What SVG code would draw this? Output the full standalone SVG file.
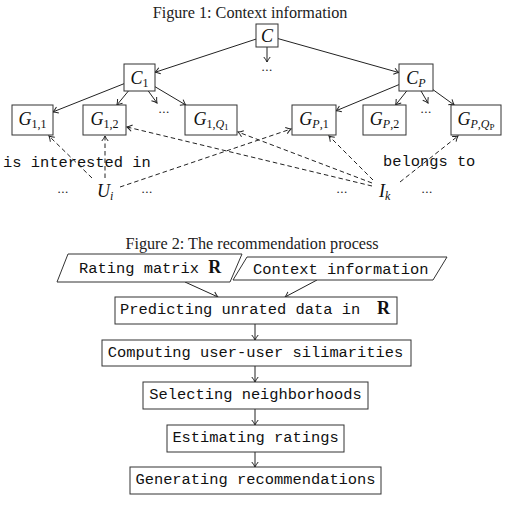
<svg xmlns="http://www.w3.org/2000/svg" width="513" height="507" viewBox="0 0 513 507">
<style>
.bg{fill:#fff}
.box{fill:#fff;stroke:#333;stroke-width:1}
.ln{fill:none;stroke:#222;stroke-width:1}
.dash{fill:none;stroke:#222;stroke-width:1;stroke-dasharray:4.5 3}
.cap{font-family:"Liberation Serif",serif;font-size:16.2px;fill:#222}
.math{font-family:"Liberation Serif",serif;font-style:italic;font-size:18px;fill:#111}
.sub{font-family:"Liberation Serif",serif;font-style:normal;font-size:12px}
.subi{font-family:"Liberation Serif",serif;font-style:italic;font-size:12px}
.subsub{font-family:"Liberation Serif",serif;font-style:normal;font-size:9px}
.tt{font-family:"Liberation Mono",monospace;font-size:15.4px;fill:#111}
.bf{font-family:"Liberation Serif",serif;font-weight:bold;font-size:18px;fill:#111}
.dots{font-family:"Liberation Serif",serif;font-size:13px;fill:#222;letter-spacing:0.5px}
</style>
<defs>
<marker id="ah" markerWidth="8" markerHeight="8" refX="0" refY="0" viewBox="-6 -4 7 8" markerUnits="userSpaceOnUse" orient="auto">
<path d="M-5,-3.2 Q-2,-0.8 0,0 Q-2,0.8 -5,3.2" fill="none" stroke="#222" stroke-width="1" stroke-dasharray="none"/>
</marker>
</defs>
<rect class="bg" x="0" y="0" width="513" height="507"/>

<text class="cap" x="250" y="18" text-anchor="middle">Figure 1: Context information</text>
<text class="cap" x="252" y="249" text-anchor="middle">Figure 2: The recommendation process</text>

<g id="connectors">
<line class="ln" x1="256" y1="39.1" x2="155" y2="72.3" marker-end="url(#ah)"/>
<line class="ln" x1="278" y1="38.6" x2="399" y2="72.6" marker-end="url(#ah)"/>
<line class="ln" x1="267" y1="47" x2="267" y2="62" marker-end="url(#ah)"/>
<line class="ln" x1="124" y1="83.7" x2="53" y2="111.9" marker-end="url(#ah)"/>
<line class="ln" x1="128.4" y1="91" x2="116.9" y2="105" marker-end="url(#ah)"/>
<line class="ln" x1="148.3" y1="91" x2="157" y2="103" marker-end="url(#ah)"/>
<line class="ln" x1="155" y1="86.7" x2="185.8" y2="105" marker-end="url(#ah)"/>
<line class="ln" x1="399" y1="84.6" x2="336" y2="110.8" marker-end="url(#ah)"/>
<line class="ln" x1="406.7" y1="91" x2="395.6" y2="105" marker-end="url(#ah)"/>
<line class="ln" x1="421" y1="91" x2="428" y2="103" marker-end="url(#ah)"/>
<line class="ln" x1="433" y1="89.7" x2="454.2" y2="105" marker-end="url(#ah)"/>

<line class="dash" x1="92" y1="178" x2="49" y2="136" marker-end="url(#ah)"/>
<line class="dash" x1="105" y1="178" x2="105" y2="136" marker-end="url(#ah)"/>
<line class="dash" x1="120" y1="187" x2="291" y2="129" marker-end="url(#ah)"/>
<line class="dash" x1="372" y1="186" x2="127" y2="127" marker-end="url(#ah)"/>
<line class="dash" x1="372" y1="183" x2="238" y2="132" marker-end="url(#ah)"/>
<line class="dash" x1="373" y1="180" x2="329" y2="136" marker-end="url(#ah)"/>
<line class="dash" x1="400" y1="182" x2="458" y2="136" marker-end="url(#ah)"/>

<line class="ln" x1="185" y1="282" x2="218" y2="297" marker-end="url(#ah)"/>
<line class="ln" x1="317" y1="280" x2="285" y2="297" marker-end="url(#ah)"/>
<line class="ln" x1="255" y1="324" x2="255" y2="340" marker-end="url(#ah)"/>
<line class="ln" x1="255" y1="366" x2="255" y2="382" marker-end="url(#ah)"/>
<line class="ln" x1="255" y1="409" x2="255" y2="425" marker-end="url(#ah)"/>
<line class="ln" x1="255" y1="452" x2="255" y2="467" marker-end="url(#ah)"/>
</g>

<g id="C"><rect class="box" x="256" y="24" width="22" height="23"/><text class="math" x="267" y="42" text-anchor="middle">C</text></g>
<g id="C1"><rect class="box" x="124" y="64" width="31" height="27"/><text class="math" x="139.5" y="83.5" text-anchor="middle">C<tspan class="sub" dy="3">1</tspan></text></g>
<g id="CP"><rect class="box" x="399" y="64" width="34" height="27"/><text class="math" x="416" y="83.5" text-anchor="middle">C<tspan class="subi" dy="3">P</tspan></text></g>

<g id="G11"><rect class="box" x="12" y="105" width="41" height="30"/><text class="math" x="32.5" y="125" text-anchor="middle">G<tspan class="sub" dy="3">1,1</tspan></text></g>
<g id="G12"><rect class="box" x="83" y="105" width="43" height="30"/><text class="math" x="104.5" y="125" text-anchor="middle">G<tspan class="sub" dy="3">1,2</tspan></text></g>
<g id="G1Q1"><rect class="box" x="185" y="105" width="52" height="30"/><text class="math" x="211" y="125" text-anchor="middle">G<tspan class="sub" dy="3">1,</tspan><tspan class="subi">Q</tspan><tspan class="subsub" dy="2">1</tspan></text></g>
<g id="GP1"><rect class="box" x="292" y="105" width="44" height="30"/><text class="math" x="314" y="125" text-anchor="middle">G<tspan class="subi" dy="3">P</tspan><tspan class="sub">,1</tspan></text></g>
<g id="GP2"><rect class="box" x="363" y="105" width="43" height="30"/><text class="math" x="384.5" y="125" text-anchor="middle">G<tspan class="subi" dy="3">P</tspan><tspan class="sub">,2</tspan></text></g>
<g id="GPQP"><rect class="box" x="451" y="105" width="50" height="30"/><text class="math" x="476" y="125" text-anchor="middle">G<tspan class="subi" dy="3">P</tspan><tspan class="sub">,</tspan><tspan class="subi">Q</tspan><tspan class="subsub" font-style="italic" dy="2">P</tspan></text></g>

<g id="dots">
<text class="dots" x="267" y="71" text-anchor="middle">...</text>
<text class="dots" x="164" y="113" text-anchor="middle">...</text>
<text class="dots" x="426" y="113" text-anchor="middle">...</text>
<text class="dots" x="63" y="193" text-anchor="middle">...</text>
<text class="dots" x="147" y="193" text-anchor="middle">...</text>
<text class="dots" x="342" y="193" text-anchor="middle">...</text>
<text class="dots" x="427" y="193" text-anchor="middle">...</text>
</g>

<g id="Ui"><text class="math" x="97" y="197">U<tspan class="subi" dy="3">i</tspan></text></g>
<g id="Ik"><text class="math" x="379" y="197">I<tspan class="subi" dy="3">k</tspan></text></g>

<g id="labels">
<text class="tt" x="3" y="167">is interested in</text>
<text class="tt" x="383" y="166">belongs to</text>
</g>

<g id="rating"><polygon class="box" points="68,254 242,254 230,282 57,282"/><text class="tt" x="79" y="273">Rating matrix <tspan class="bf">R</tspan></text></g>
<g id="context"><polygon class="box" points="247,257 447,257 433,280 233,280"/><text class="tt" x="253" y="274">Context information</text></g>
<g id="predict"><rect class="box" x="115" y="297" width="282" height="27"/><text class="tt" x="120" y="314">Predicting unrated data in<tspan class="bf" x="377">R</tspan></text></g>
<g id="compute"><rect class="box" x="102" y="340" width="309" height="26"/><text class="tt" x="255.5" y="357" text-anchor="middle">Computing user-user silimarities</text></g>
<g id="select"><rect class="box" x="143" y="382" width="225" height="27"/><text class="tt" x="255.5" y="399" text-anchor="middle">Selecting neighborhoods</text></g>
<g id="estimate"><rect class="box" x="167" y="425" width="177" height="27"/><text class="tt" x="255.5" y="442" text-anchor="middle">Estimating ratings</text></g>
<g id="generate"><rect class="box" x="130" y="467" width="251" height="27"/><text class="tt" x="255.5" y="484" text-anchor="middle">Generating recommendations</text></g>
</svg>
